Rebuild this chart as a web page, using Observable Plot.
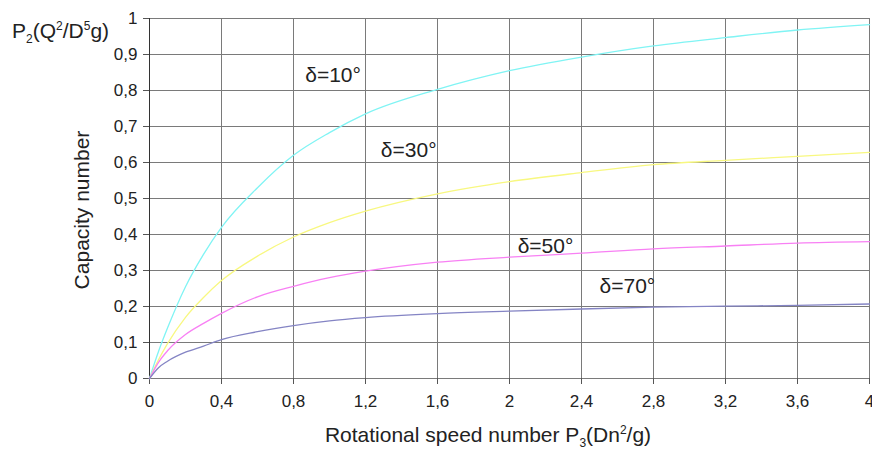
<!DOCTYPE html>
<html><head><meta charset="utf-8">
<script src="https://cdn.jsdelivr.net/npm/d3@7"></script>
<script src="https://cdn.jsdelivr.net/npm/@observablehq/plot@0.6"></script>
<style>
html,body{margin:0;padding:0;background:#fff;}
</style>
</head><body><div id="chart"></div>
<script>
// Rotational speed number P3 (shared sample points)
const xSpeed = [0, 0.05, 0.1, 0.2, 0.3, 0.4, 0.6, 0.8, 1.0, 1.2, 1.6, 2.0, 2.4, 2.8, 3.2, 3.6, 4.0];
// Capacity number for each blade angle
const cap10 = [0, 0.075, 0.14, 0.255, 0.345, 0.42, 0.53, 0.62, 0.683, 0.735, 0.803, 0.855, 0.893, 0.924, 0.947, 0.968, 0.983];
const cap30 = [0, 0.052, 0.097, 0.17, 0.225, 0.272, 0.34, 0.393, 0.433, 0.465, 0.513, 0.547, 0.572, 0.594, 0.606, 0.617, 0.628];
const cap50 = [0, 0.045, 0.077, 0.122, 0.153, 0.181, 0.227, 0.256, 0.28, 0.298, 0.323, 0.337, 0.348, 0.36, 0.368, 0.376, 0.38];
const cap70 = [0, 0.03, 0.048, 0.073, 0.09, 0.108, 0.13, 0.147, 0.16, 0.169, 0.18, 0.187, 0.193, 0.198, 0.201, 0.203, 0.207];
const seriesNames = ["δ=10°", "δ=30°", "δ=50°", "δ=70°"];
const seriesColors = ["#80f4f4", "#f8f880", "#f880f4", "#8484c4"];
const labelX = [1.02, 1.44, 2.2, 2.655];
const labelY = [0.8425, 0.633, 0.367, 0.2556];
const xTicks = [0, 0.4, 0.8, 1.2, 1.6, 2, 2.4, 2.8, 3.2, 3.6, 4];
const yTicks = [0, 0.1, 0.2, 0.3, 0.4, 0.5, 0.6, 0.7, 0.8, 0.9, 1];

const allCaps = [cap10, cap30, cap50, cap70];
const rows = [];
seriesNames.forEach((s, i) => xSpeed.forEach((x, j) => rows.push({series: s, x, y: allCaps[i][j]})));
const labels = seriesNames.map((s, i) => ({series: s, x: labelX[i], y: labelY[i]}));
const fmt = d => String(d).replace(".", ",");

const chart = Plot.plot({
  width: 872, height: 450,
  marginLeft: 149, marginRight: 3, marginTop: 18, marginBottom: 72,
  style: {fontFamily: "'Liberation Sans', Arial, sans-serif", background: "#fff", color: "#222"},
  x: {domain: [0, 4]},
  y: {domain: [0, 1]},
  color: {domain: seriesNames, range: seriesColors},
  marks: [
    Plot.ruleX(xTicks, {stroke: "#7a7a7a", strokeWidth: 1}),
    Plot.ruleY(yTicks, {stroke: "#7a7a7a", strokeWidth: 1}),
    Plot.axisX({ticks: xTicks, tickFormat: fmt, tickSize: 6, tickPadding: 10, fontSize: 17, label: null, stroke: "#555", fill: "#222"}),
    Plot.axisY({ticks: yTicks, tickFormat: fmt, tickSize: 6, tickPadding: 6, fontSize: 17, label: null, stroke: "#555", fill: "#222"}),
    Plot.ruleX([0], {stroke: "#333"}),
    Plot.line(rows, {x: "x", y: "y", z: "series", stroke: "series", strokeWidth: 1.3, curve: "monotone-x"}),
    Plot.text(labels, {x: "x", y: "y", text: "series", fontSize: 21, fill: "#222", textAnchor: "middle", lineAnchor: "middle"})
  ]
});
document.getElementById("chart").appendChild(chart);

const svg = d3.select(chart);
function richText(g, parts, attrs) {
  const t = g.append("text").attr("font-size", 21).attr("fill", "#222")
    .attr("text-anchor", "start")
    .attr("font-family", "'Liberation Sans', Arial, sans-serif");
  Object.entries(attrs).forEach(([k, v]) => t.attr(k, v));
  let shift = 0;
  parts.forEach(([txt, kind]) => {
    const target = kind === "sub" ? 5 : kind === "sup" ? -8 : 0;
    const ts = t.append("tspan").text(txt).attr("dy", target - shift);
    if (kind !== "n") ts.attr("font-size", 12);
    shift = target;
  });
  return t;
}
richText(svg, [["P","n"],["2","sub"],["(Q","n"],["2","sup"],["/D","n"],["5","sup"],["g)","n"]], {x: 12, y: 38});
richText(svg, [["Rotational speed number P","n"],["3","sub"],["(Dn","n"],["2","sup"],["/g)","n"]], {x: 488, y: 442, "text-anchor": "middle"});
richText(svg, [["Capacity number","n"]], {transform: "translate(89,210) rotate(-90)", "text-anchor": "middle"});
</script>
</body></html>
